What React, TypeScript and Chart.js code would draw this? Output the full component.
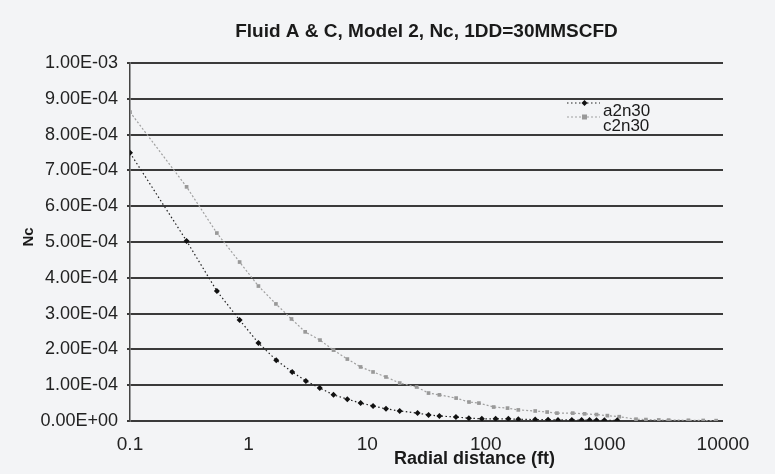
import React, { useEffect, useRef } from "react";
import { Chart, registerables } from "chart.js";

Chart.register(...registerables);

// Radial distance (ft) and dimensionless Nc for each run
const radiusA = [0.1, 0.3, 0.54, 0.84, 1.21, 1.71, 2.33, 3.04, 3.98, 5.2, 6.8, 8.8, 11.2, 14.4, 18.8, 26.6, 32.9, 40.6, 56, 72, 92.6, 121, 155, 188, 261, 335, 406, 531, 643, 750, 858, 1000, 1283];
const ncA = [7.49e-4, 5.03e-4, 3.63e-4, 2.82e-4, 2.18e-4, 1.7e-4, 1.37e-4, 1.12e-4, 0.92e-4, 0.73e-4, 0.61e-4, 0.5e-4, 0.42e-4, 0.34e-4, 0.28e-4, 0.22e-4, 0.17e-4, 0.14e-4, 0.11e-4, 0.08e-4, 0.06e-4, 0.06e-4, 0.06e-4, 0.05e-4, 0.04e-4, 0.035e-4, 0.03e-4, 0.03e-4, 0.025e-4, 0.025e-4, 0.02e-4, 0.02e-4, 0.02e-4];

const radiusC = [0.1, 0.3, 0.54, 0.84, 1.21, 1.7, 2.3, 3.0, 4.0, 5.2, 6.8, 8.8, 11.2, 14.4, 18.8, 26.1, 32.9, 40.6, 56.2, 72.2, 87.5, 116.6, 152.5, 188, 261, 329, 398, 541, 681, 858, 1059, 1334, 1848, 2239, 2873, 3480, 5109, 6813, 8750];
const ncC = [8.63e-4, 6.54e-4, 5.25e-4, 4.44e-4, 3.77e-4, 3.27e-4, 2.85e-4, 2.49e-4, 2.26e-4, 1.98e-4, 1.73e-4, 1.51e-4, 1.37e-4, 1.23e-4, 1.06e-4, 0.95e-4, 0.78e-4, 0.73e-4, 0.64e-4, 0.53e-4, 0.5e-4, 0.39e-4, 0.36e-4, 0.31e-4, 0.28e-4, 0.25e-4, 0.22e-4, 0.22e-4, 0.2e-4, 0.18e-4, 0.15e-4, 0.12e-4, 0.05e-4, 0.04e-4, 0.03e-4, 0.025e-4, 0.02e-4, 0.015e-4, 0.01e-4];

const seriesLabels = ["a2n30", "c2n30"];
const xTicks = [0.1, 1, 10, 100, 1000, 10000];
const yMin = 0;
const yMax = 1.0e-3;
const yStep = 1.0e-4;

const chartTitle = "Fluid A & C, Model 2, Nc, 1DD=30MMSCFD";
const xTitle = "Radial distance (ft)";
const yTitle = "Nc";

const FONT = "'Liberation Sans', Arial, Helvetica, sans-serif";
const BG = "#f3f4f6";

function sci(v: number): string {
  if (Math.abs(v) < 1e-12) return "0.00E+00";
  const [m, e] = v.toExponential(2).split("e");
  const n = parseInt(e, 10);
  const sign = n < 0 ? "-" : "+";
  const digits = String(Math.abs(n)).padStart(2, "0");
  return `${m}E${sign}${digits}`;
}

const decorations = {
  id: "decorations",
  beforeDraw(chart: any) {
    const { ctx, width, height } = chart;
    ctx.save();
    ctx.fillStyle = BG;
    ctx.fillRect(0, 0, width, height);
    ctx.restore();
  },
  afterDraw(chart: any) {
    const { ctx, chartArea } = chart;
    const cx = (chartArea.left + chartArea.right) / 2;
    ctx.save();
    ctx.fillStyle = "#1a1a1a";
    ctx.textAlign = "center";
    ctx.textBaseline = "middle";

    // chart title
    ctx.font = `bold 19px ${FONT}`;
    ctx.fillText(chartTitle, cx, 32);

    // x axis title
    ctx.font = `bold 18px ${FONT}`;
    ctx.fillText(xTitle, cx + 48, 459);

    // y axis title
    ctx.font = `bold 15px ${FONT}`;
    ctx.translate(29, 237);
    ctx.rotate(-Math.PI / 2);
    ctx.fillText(yTitle, 0, 0);
    ctx.restore();

    // legend inside plot, top right
    ctx.save();
    const lx0 = chartArea.right - 156;
    const lx1 = chartArea.right - 123;
    const rows = [
      { lineY: chartArea.top + 40, textY: chartArea.top + 48 },
      { lineY: chartArea.top + 54, textY: chartArea.top + 63 },
    ];
    chart.data.datasets.forEach((ds: any, i: number) => {
      const r = rows[i];
      ctx.strokeStyle = ds.borderColor;
      ctx.lineWidth = ds.borderWidth;
      ctx.setLineDash(ds.borderDash);
      ctx.beginPath();
      ctx.moveTo(lx0, r.lineY);
      ctx.lineTo(lx1, r.lineY);
      ctx.stroke();
      ctx.setLineDash([]);
      const mx = (lx0 + lx1) / 2 + 1;
      ctx.fillStyle = ds.pointBackgroundColor;
      const s = 2.5;
      if (ds.pointStyle === "rectRot") {
        ctx.beginPath();
        ctx.moveTo(mx, r.lineY - s - 0.5);
        ctx.lineTo(mx + s + 0.5, r.lineY);
        ctx.lineTo(mx, r.lineY + s + 0.5);
        ctx.lineTo(mx - s - 0.5, r.lineY);
        ctx.closePath();
        ctx.fill();
      } else {
        ctx.fillRect(mx - s, r.lineY - s, s * 2, s * 2);
      }
      ctx.fillStyle = "#1a1a1a";
      ctx.font = `17px ${FONT}`;
      ctx.textAlign = "left";
      ctx.textBaseline = "middle";
      ctx.fillText(ds.label, lx1 + 3, r.textY);
    });
    ctx.restore();
  },
};

export default function App() {
  const canvasRef = useRef<HTMLCanvasElement | null>(null);

  useEffect(() => {
    document.body.style.margin = "0";
    document.body.style.background = BG;
    const canvas = canvasRef.current;
    if (!canvas) return;

    const chart = new Chart(canvas, {
      type: "line",
      data: {
        datasets: [
          {
            label: seriesLabels[0],
            data: radiusA.map((r, i) => ({ x: r, y: ncA[i] })),
            borderColor: "#222222",
            borderWidth: 1.2,
            borderDash: [1.5, 2.5],
            pointStyle: "rectRot",
            pointRadius: 3,
            pointBackgroundColor: "#111111",
            pointBorderColor: "#111111",
            pointBorderWidth: 0,
            tension: 0,
          },
          {
            label: seriesLabels[1],
            data: radiusC.map((r, i) => ({ x: r, y: ncC[i] })),
            borderColor: "#a0a0a0",
            borderWidth: 1.2,
            borderDash: [2, 2],
            pointStyle: "rect",
            pointRadius: 2.6,
            pointBackgroundColor: "#999999",
            pointBorderColor: "#999999",
            pointBorderWidth: 0,
            tension: 0,
          },
        ],
      },
      options: {
        responsive: false,
        animation: false,
        events: [],
        layout: { padding: { top: 63, right: 52, left: 0, bottom: 0 } },
        plugins: {
          legend: { display: false },
          title: { display: false },
          tooltip: { enabled: false },
        },
        scales: {
          x: {
            type: "logarithmic",
            min: 0.1,
            max: 10000,
            afterBuildTicks: (scale: any) => {
              scale.ticks = xTicks.map((v) => ({ value: v }));
            },
            afterFit: (scale: any) => {
              scale.height = 53;
            },
            grid: { display: false, drawTicks: false },
            border: { display: false },
            ticks: {
              autoSkip: false,
              maxRotation: 0,
              padding: 12,
              color: "#222222",
              font: { family: FONT, size: 19 },
              callback: (v: any) => String(Number(v)),
            },
          },
          y: {
            type: "linear",
            min: yMin,
            max: yMax,
            afterFit: (scale: any) => {
              scale.width = 130;
            },
            grid: {
              color: "#3a3a3a",
              lineWidth: 2,
              drawTicks: true,
              tickLength: 3,
              tickColor: "#3a3a3a",
            },
            border: { display: true, color: "#444444", width: 1.5 },
            ticks: {
              stepSize: yStep,
              padding: 9,
              color: "#222222",
              font: { family: FONT, size: 18 },
              callback: (v: any) => sci(Number(v)),
            },
          },
        },
      },
      plugins: [decorations],
    });

    return () => chart.destroy();
  }, []);

  return (
    <div style={{ width: 775, height: 474 }}>
      <canvas ref={canvasRef} width={775} height={474} />
    </div>
  );
}
